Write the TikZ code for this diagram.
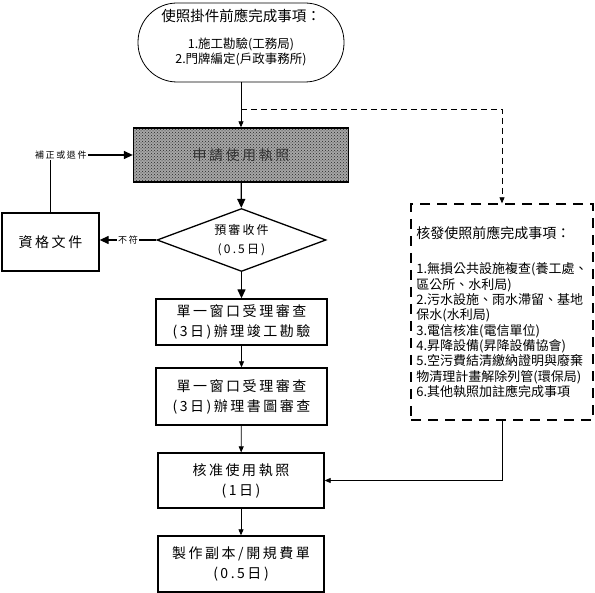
\documentclass[tikz,border=0pt]{standalone}
\usepackage{fontspec}
\setmainfont{Noto Sans CJK TC}
\newfontfamily\spaced[LetterSpace=18]{Noto Sans CJK TC}
\usetikzlibrary{shapes.geometric, arrows.meta, patterns}

\begin{document}
\begin{tikzpicture}[x=1pt, y=-1pt, >={Triangle[length=9pt,width=8pt]},
    box/.style={draw, line width=1.3pt, align=center, inner sep=0pt, font=\spaced\fontsize{14}{20}\selectfont},
    thin/.style={line width=0.8pt, -{Triangle[length=6pt,width=5pt]}},
    thick/.style={line width=1.3pt, ->},
    note/.style={font=\spaced\fontsize{9}{10}\selectfont, inner sep=1pt, fill=white}]
  \useasboundingbox (0,0) rectangle (595,593);
  \node[draw, line width=0.8pt, rounded corners=39pt, minimum width=206pt, minimum height=79pt,
        align=center, font=\fontsize{12.5}{15}\selectfont, text depth=13pt] (pre) at (241,42.5)
        {{\fontsize{14.5}{16}\selectfont 使照掛件前應完成事項：}\\[12pt]1.施工勘驗(工務局)\\2.門牌編定(戶政事務所)};
  \node[box, minimum width=215pt, minimum height=54pt, preaction={fill=black!35},
        pattern=crosshatch dots, pattern color=black!85, text=black!80] (apply) at (241,155) {申請使用執照};
  \node[diamond, draw, line width=1.3pt, aspect=2.68, minimum width=169pt, minimum height=63pt,
        inner sep=0pt, align=center, font=\spaced\fontsize{12}{19}\selectfont] (receive) at (241.5,240) {預審收件\\(0.5日)};
  \node[box, minimum width=97pt, minimum height=58pt] (docs) at (50.5,242) {資格文件};
  \node[box, minimum width=171pt, minimum height=46pt] (window1) at (241.5,322) {單一窗口受理審查\\(3日)辦理竣工勘驗};
  \node[box, minimum width=171pt, minimum height=57pt] (window2) at (241.5,396.5) {單一窗口受理審查\\(3日)辦理書圖審查};
  \node[box, minimum width=166pt, minimum height=55pt] (approve) at (241,480.5) {核准使用執照\\(1日)};
  \node[box, minimum width=166pt, minimum height=56pt] (copy) at (241,564) {製作副本/開規費單\\(0.5日)};
  \node[draw, line width=1.3pt, dash pattern=on 10pt off 7pt, minimum width=182pt, minimum height=216pt,
        align=left, inner sep=0pt, font=\fontsize{13}{15.3}\selectfont] (later) at (502,312)
        {{\fontsize{14}{16}\selectfont 核發使照前應完成事項：}\\[20pt]1.無損公共設施複查(養工處、\\區公所、水利局)\\2.污水設施、雨水滯留、基地\\保水(水利局)\\3.電信核准(電信單位)\\4.昇降設備(昇降設備協會)\\5.空污費結清繳納證明與廢棄\\物清理計畫解除列管(環保局)\\6.其他執照加註應完成事項};
  \coordinate (fork) at (241,109);
  % connectors
  \draw[thin] (pre) -- (apply);
  \draw[thin, dash pattern=on 6pt off 4pt] (fork) -| (later.north);
  \draw[thick] (apply) -- (receive);
  \draw[thick] (receive.west) -- node[note] {不符} (receive.west -| docs.east);
  \draw[thick] (docs.north) |- node[note, pos=0.563] {補正或退件} (apply.west);
  \draw[thick] (receive) -- (window1);
  \draw[thin] (window1) -- (window2);
  \draw[thin] (window2) -- (approve);
  \draw[thin] (approve) -- (copy);
  \draw[thin] (later.south) |- (approve.east);
\end{tikzpicture}
\end{document}
